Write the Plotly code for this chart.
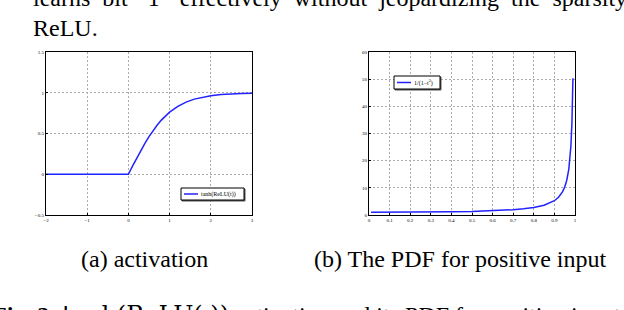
import plotly.graph_objects as go

# ---- data ----
act_t = [-2.0, -1.0, 0.0, 0.1, 0.2, 0.3, 0.4, 0.5, 0.6, 0.7, 0.8, 0.9, 1.0, 1.2, 1.4, 1.6, 1.8, 2.0, 2.25, 2.5, 2.75, 3.0]
act_y = [0.0, 0.0, 0.0, 0.10, 0.197, 0.291, 0.38, 0.462, 0.537, 0.604, 0.664, 0.716, 0.762, 0.834, 0.885, 0.922, 0.947, 0.964, 0.978, 0.987, 0.992, 0.995]

pdf_t = [0.01, 0.1, 0.2, 0.3, 0.4, 0.5, 0.6, 0.65, 0.7, 0.75, 0.8, 0.85, 0.88, 0.9, 0.92, 0.94, 0.95, 0.96, 0.97, 0.975, 0.98, 0.985, 0.99]
pdf_y = [1.0, 1.01, 1.04, 1.1, 1.19, 1.33, 1.56, 1.73, 1.96, 2.29, 2.78, 3.6, 4.43, 5.26, 6.51, 8.59, 10.3, 12.8, 16.9, 20.3, 25.3, 33.8, 50.3]

act_xticks = [-2, -1, 0, 1, 2, 3]
act_xtext = ["\u22122", "\u22121", "0", "1", "2", "3"]
act_yticks = [-0.5, 0, 0.5, 1, 1.5]
act_ytext = ["\u22120.5", "0", "0.5", "1", "1.5"]
pdf_xticks = [0, 0.1, 0.2, 0.3, 0.4, 0.5, 0.6, 0.7, 0.8, 0.9, 1]
pdf_yticks = [0, 10, 20, 30, 40, 50, 60]

act_label = "tanh(ReLU(t))"
pdf_label = "1/(1\u2212t<sup>2</sup>)"

W, H = 624, 310
SERIF = "Liberation Serif, Times New Roman, serif"
BLUE = "#2222ff"

def px(x):
    return x / W

def py(y):
    return 1 - y / H

fig = go.Figure()
fig.add_trace(go.Scatter(x=act_t, y=act_y, mode="lines", name=act_label, showlegend=False,
                         line=dict(color=BLUE, width=1.5), xaxis="x", yaxis="y"))
fig.add_trace(go.Scatter(x=pdf_t, y=pdf_y, mode="lines", name=pdf_label, showlegend=False,
                         line=dict(color=BLUE, width=1.5), xaxis="x2", yaxis="y2"))

ax_common = dict(showline=True, linecolor="black", linewidth=1.2, mirror=True,
                 showgrid=True, gridcolor="#aaaaaa", griddash="2px,2px", gridwidth=1,
                 zeroline=False, ticks="inside", ticklen=2, tickcolor="black",
                 automargin=False,
                 tickfont=dict(size=5, family=SERIF, color="black"))

fig.update_layout(
    template="none",
    width=W, height=H, margin=dict(l=0, r=0, t=0, b=0, autoexpand=False),
    paper_bgcolor="white", plot_bgcolor="white",
    xaxis=dict(domain=[px(46), px(252)], range=[-2, 3], tickvals=act_xticks,
               ticktext=act_xtext, anchor="y", **ax_common),
    yaxis=dict(domain=[py(215), py(52)], range=[-0.5, 1.5], tickvals=act_yticks,
               ticktext=act_ytext, anchor="x", **ax_common),
    xaxis2=dict(domain=[px(369), px(575)], range=[0, 1], tickvals=pdf_xticks, anchor="y2", **ax_common),
    yaxis2=dict(domain=[py(215), py(52)], range=[0, 60], tickvals=pdf_yticks, anchor="x2", **ax_common),
    showlegend=False,
)

# hand-built MATLAB-style legend boxes (box, sample line, label)
def legend_box(x0, y0, x1, y1, label):
    fig.add_shape(type="rect", xref="paper", yref="paper", x0=px(x0 + 1), y0=py(y1 + 1),
                  x1=px(x1 + 1), y1=py(y0 + 1), line=dict(color="#555555", width=1), fillcolor="#555555")
    fig.add_shape(type="rect", xref="paper", yref="paper", x0=px(x0), y0=py(y1),
                  x1=px(x1), y1=py(y0), line=dict(color="black", width=1), fillcolor="white")
    ym = py((y0 + y1) / 2)
    fig.add_shape(type="line", xref="paper", yref="paper", x0=px(x0 + 3), x1=px(x0 + 17),
                  y0=ym, y1=ym, line=dict(color=BLUE, width=1.5))
    fig.add_annotation(text=label, x=px(x0 + 18), y=ym, xref="paper", yref="paper",
                       xanchor="left", yanchor="middle", showarrow=False,
                       font=dict(size=6, family=SERIF, color="black"))

legend_box(181, 188, 244, 200, act_label)
legend_box(394, 76, 440, 89, pdf_label)

ann_font = dict(size=24, family=SERIF, color="black")
top_line = "\u2002".join(["learns", "bit", "\u20181\u2019", "effectively", "without", "jeopardizing", "the", "sparsity"])
texts = [
    (top_line, 31, -2.5),
    ("ReLU.", 31, 27.5),
    ("(a) activation", 79, 259),
    ("(b) The PDF for positive input", 312, 259),
    ("<b>Fig. 2</b>: <span style=\"font-family:DejaVu Serif\">tanh(ReLU(.))</span> activation and its PDF for positive input", -10, 315),
]
for t, x, y in texts:
    fig.add_annotation(text=t, x=px(x), y=py(y), xref="paper", yref="paper",
                       xanchor="left", yanchor="middle", showarrow=False, font=ann_font)

fig.write_html("out.html", config={"displayModeBar": False},
               post_script="document.body.style.margin='0px';document.body.style.overflow='hidden';")
